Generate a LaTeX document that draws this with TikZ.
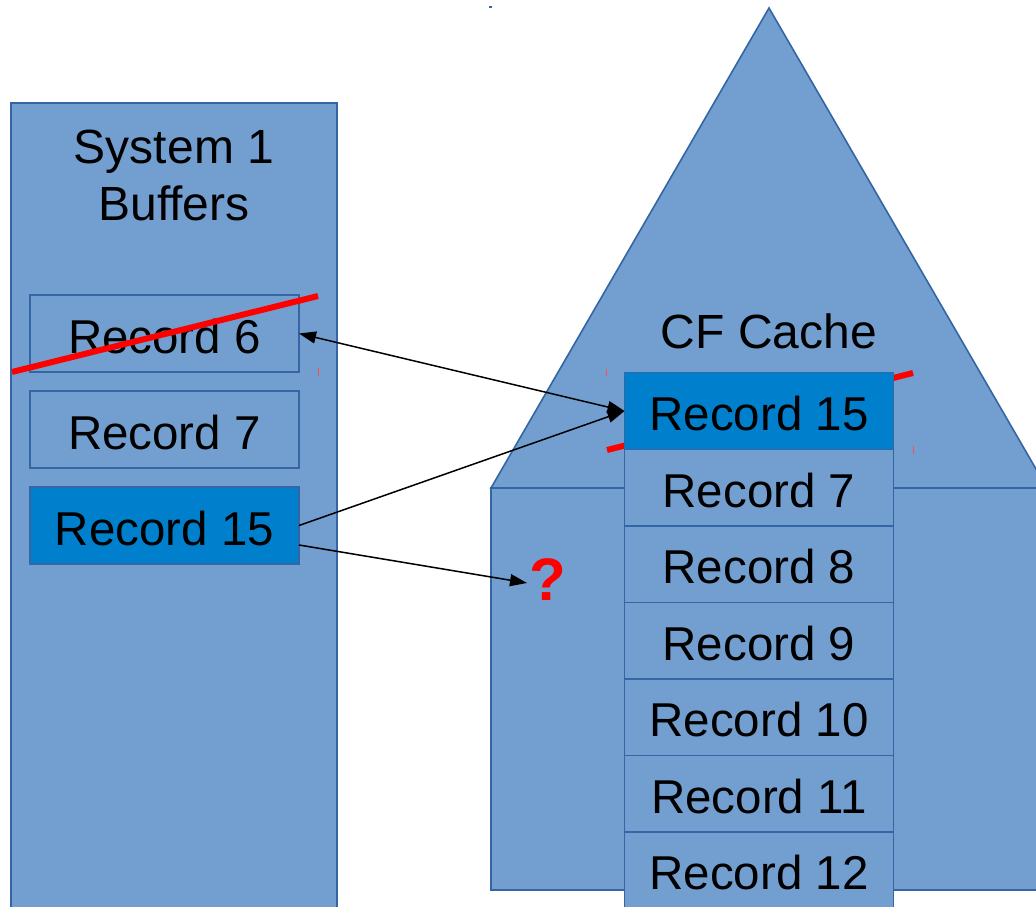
\documentclass[tikz,border=0pt]{standalone}
\usepackage{fontspec}
\setmainfont{Liberation Sans}
\usetikzlibrary{arrows.meta}
\definecolor{paneblue}{HTML}{729FCF}
\definecolor{edgeblue}{HTML}{3465A4}
\definecolor{hotblue}{HTML}{0080CC}
\definecolor{strike}{HTML}{FF0000}
\tikzset{
  pane/.style={fill=paneblue, draw=edgeblue, line width=1.6pt},
  rec/.style={draw=edgeblue, line width=1.6pt, fill=paneblue, minimum width=269pt,
    inner sep=0pt, outer sep=0pt, text height=39pt, text depth=0pt,
    font=\fontsize{47.5}{56}\selectfont},
  hot/.style={fill=hotblue},
  lbl/.style={inner sep=0pt, anchor=base, font=\fontsize{48}{56}\selectfont},
  link/.style={line width=1.5pt, -{Triangle[length=17pt,width=12pt]}},
  redline/.style={strike, line width=6pt},
  tick/.style={strike!70!white, line width=1pt}
}
\begin{document}
\begin{tikzpicture}[x=1pt,y=-1pt]
\useasboundingbox (0,0) rectangle (1036,907);
\clip (0,0) rectangle (1036,907);

% left buffer pane
\draw[pane] (11,103) rectangle (337,920);
\node[lbl] (sysA) at (174,163) {System 1};
\node[lbl] (sysB) at (174,220) {Buffers};

% CF structure: roof and body
\draw[pane] (769,8) -- (491,488) -- (1047,488) -- cycle;
\draw[pane] (491,488) rectangle (1047,890);
\node[lbl] (cftitle) at (769,348) {CF Cache};

% strike-through behind the cached record
\draw[redline] (607,450) -- (913,373);

% buffer records
\node[rec, minimum height=77pt] (b6) at (164.5,333.5) {Record 6};
\node[rec, minimum height=77pt] (b7) at (164.5,429.5) {Record 7};
\node[rec, hot, minimum height=77pt] (b15) at (164.5,525.5) {Record 15};

% strike-through on Record 6
\draw[redline] (12,372) -- (318,296);

% cache records
\node[rec, hot, minimum height=77pt] (c15) at (759,411) {Record 15};
\node[rec, minimum height=76.5pt, anchor=north] (c7) at (c15.south) {Record 7};
\node[rec, minimum height=76.5pt, anchor=north] (c8) at (c7.south) {Record 8};
\node[rec, minimum height=76.5pt, anchor=north] (c9) at (c8.south) {Record 9};
\node[rec, minimum height=76.5pt, anchor=north] (c10) at (c9.south) {Record 10};
\node[rec, minimum height=76.5pt, anchor=north] (c11) at (c10.south) {Record 11};
\node[rec, minimum height=76.5pt, anchor=north] (c12) at (c11.south) {Record 12};

% unknown destination
\node[inner sep=0pt, anchor=base, text=strike, font=\fontsize{60}{70}\selectfont\bfseries] (q) at (548,600) {?};
\coordinate (qtip) at (527,583);
\coordinate (b15low) at (299,545);

% connectors
\draw[link, {Triangle[length=17pt,width=12pt]}-{Triangle[length=17pt,width=12pt]}] (b6.east) -- (c15.west);
\draw[link] (b15.east) -- (c15.west);
\draw[link] (b15low) -- (qtip);

% small handle marks
\draw[tick] (318,368) -- (318,376);
\draw[tick] (606,369) -- (606,376);
\draw[tick] (913,446) -- (913,454);
\fill[edgeblue] (489,6) rectangle (492,8);
\end{tikzpicture}
\end{document}
